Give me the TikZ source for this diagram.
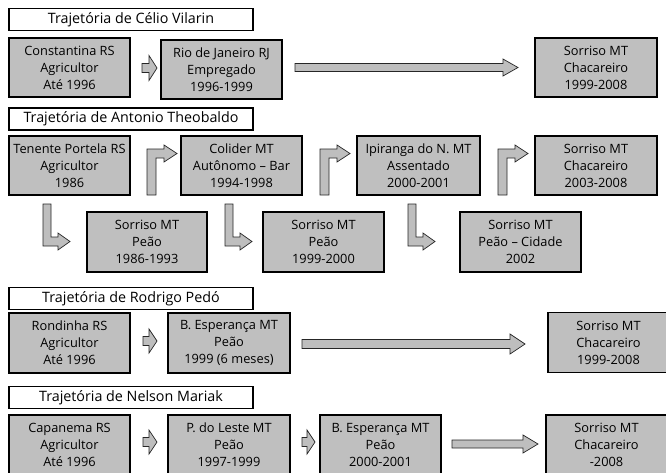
\documentclass[tikz,border=0pt]{standalone}
\usepackage{fontspec}
\setmainfont{Open Sans}
\definecolor{boxgray}{RGB}{191,191,191}
\definecolor{arrgray}{RGB}{190,190,190}
\newcommand\boxfont{\fontsize{12.8}{17}\selectfont}
\newcommand\titfont{\fontsize{14.3}{16}\selectfont}
% straight block arrow: x1, x2, yc, shaft half, head half, head length
\newcommand\barrow[6]{%
  \draw[blockarr] (#1,{#3-#4}) -- ({#2-#6},{#3-#4}) -- ({#2-#6},{#3-#5}) -- (#2,#3)
    -- ({#2-#6},{#3+#5}) -- ({#2-#6},{#3+#4}) -- (#1,{#3+#4}) -- cycle;}
% bent arrow up then right: left x of shaft
\newcommand\uprightarr[1]{%
  \draw[blockarr] (#1,195) -- (#1,149) -- ({#1+17},149) -- ({#1+17},145) -- ({#1+30},153.5)
    -- ({#1+17},162) -- ({#1+17},158) -- ({#1+9},158) -- ({#1+9},195) -- cycle;}
% bent arrow down then right: left x of shaft
\newcommand\downrightarr[1]{%
  \draw[blockarr] (#1,204) -- ({#1+8},204) -- ({#1+8},237) -- ({#1+15},237) -- ({#1+15},233)
    -- ({#1+27},241.5) -- ({#1+15},250) -- ({#1+15},246) -- (#1,246) -- cycle;}
\begin{document}
\begin{tikzpicture}[x=1pt,y=-1pt,
  box/.style={draw=black, line width=1.1pt, fill=boxgray, minimum width=121pt,
    minimum height=59pt, align=center, inner sep=0pt, font=\boxfont},
  title/.style={draw=black, line width=1.6pt, fill=white, minimum width=244pt,
    minimum height=22pt, inner sep=0pt, font=\titfont},
  blockarr/.style={draw=black!85, line width=0.7pt, fill=arrgray, line join=miter}]
\useasboundingbox (0,0) rectangle (666,472);

% ---- Célio Vilarin
\node[title] (t1) at (131,19.5) {Trajetória de Célio Vilarin};
\node[box] (a1) at (69.5,67.5) {Constantina RS\\Agricultor\\Até 1996};
\node[box] (a2) at (221.5,69.5) {Rio de Janeiro RJ\\Empregado\\1996-1999};
\node[box, minimum width=122pt] (a3) at (596,67.5) {Sorriso MT\\Chacareiro\\1999-2008};
\barrow{142}{157}{68}{4.5}{12.5}{8}
\barrow{295}{518}{67.5}{4}{8.5}{15}

% ---- Antonio Theobaldo
\node[title] (t2) at (131,119) {Trajetória de Antonio Theobaldo};
\node[box] (b1) at (69.5,165.5) {Tenente Portela RS\\Agricultor\\1986};
\node[box] (b2) at (241.5,165.5) {Colider MT\\Autônomo – Bar\\1994-1998};
\node[box, minimum width=123pt] (b3) at (418.5,165.5) {Ipiranga do N. MT\\Assentado\\2000-2001};
\node[box, minimum width=122pt] (b4) at (596,165.5) {Sorriso MT\\Chacareiro\\2003-2008};
\node[box, minimum width=120pt, minimum height=60pt] (c1) at (147,242) {Sorriso MT\\Peão\\1986-1993};
\node[box, minimum height=60pt] (c2) at (323.5,242) {Sorriso MT\\Peão\\1999-2000};
\node[box, minimum height=60pt] (c3) at (520.5,242) {Sorriso MT\\Peão – Cidade\\2002};
\uprightarr{147}
\uprightarr{320}
\uprightarr{498}
\downrightarr{43}
\downrightarr{225}
\downrightarr{408}

% ---- Rodrigo Pedó
\node[title] (t3) at (131,298.5) {Trajetória de Rodrigo Pedó};
\node[box, minimum height=60pt] (d1) at (69.5,343) {Rondinha RS\\Agricultor\\Até 1996};
\node[box, minimum width=122pt, minimum height=60pt] (d2) at (229,343) {B. Esperança MT\\Peão\\1999 (6 meses)};
\node[box, minimum height=60pt] (d3) at (608.5,342.5) {Sorriso MT\\Chacareiro\\1999-2008};
\barrow{143}{157}{341}{4.5}{12}{8}
\barrow{302}{525}{344}{4.5}{10}{15}

% ---- Nelson Mariak
\node[title] (t4) at (131,397.5) {Trajetória de Nelson Mariak};
\node[box, minimum height=60pt] (e1) at (69.5,445) {Capanema RS\\Agricultor\\Até 1996};
\node[box, minimum width=122pt, minimum height=60pt] (e2) at (229,445) {P. do Leste MT\\Peão\\1997-1999};
\node[box, minimum height=60pt] (e3) at (380.5,445) {B. Esperança MT\\Peão\\2000-2001};
\node[box, minimum height=60pt] (e4) at (606.5,445) {Sorriso MT\\Chacareiro\\-2008};
\barrow{143}{157}{442}{4.5}{12}{8}
\barrow{302}{315}{442}{4.5}{12}{8}
\barrow{452}{538}{444}{4}{9}{15}
\end{tikzpicture}
\end{document}
